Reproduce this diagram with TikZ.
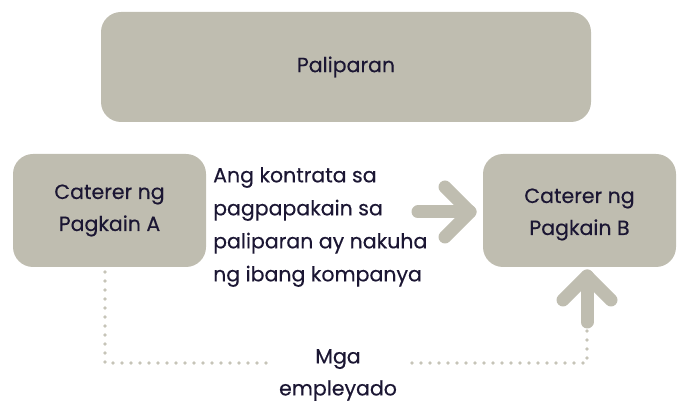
\documentclass[tikz,border=0pt]{standalone}
\usepackage{fontspec}
\setmainfont{Poppins}[FakeBold=0.35]
\definecolor{boxfill}{HTML}{BFBDB0}
\definecolor{txt}{HTML}{1B1633}
\definecolor{dotc}{HTML}{C6C4B8}
\begin{document}
\begin{tikzpicture}[x=1pt,y=-1pt,
  box/.style={fill=boxfill,draw=none,rounded corners=20pt,inner sep=0pt,text=txt,align=center,
    font=\fontsize{20.5}{32}\selectfont},
  lbl/.style={inner sep=0pt,text=txt,font=\fontsize{20.5}{33}\selectfont},
  fat/.style={draw=boxfill,line width=13pt,line cap=round,line join=round},
  dots/.style={draw=dotc,line width=3.6pt,line cap=round,dash pattern=on 0pt off 9pt}]
\useasboundingbox (0,0) rectangle (680,403);
\node[box,minimum width=490pt,minimum height=110pt] (top) at (346,67) {Paliparan};
\node[box,minimum width=193pt,minimum height=113pt] (a) at (109.5,210.5) {Caterer ng\\Pagkain A};
\node[box,minimum width=193pt,minimum height=113pt] (b) at (579.5,210.5) {};
\node[lbl,align=center,font=\fontsize{20.5}{32}\selectfont] (btxt) at ([yshift=-4pt]b.center) {Caterer ng\\Pagkain B};
\node[lbl,anchor=west,align=left] (mid) at (213,227) {Ang kontrata sa\\pagpapakain sa\\paliparan ay nakuha\\ng ibang kompanya};
\node[lbl,align=center,font=\fontsize{20.5}{32}\selectfont] (emp) at (338,375) {Mga\\empleyado};
% right arrow
\coordinate (r1) at (418,212);
\coordinate (r2) at (470,212);
\draw[fat] (r1) -- (r2);
\draw[fat] ([shift={(-25,-25)}]r2) -- (r2) -- ([shift={(-25,25)}]r2);
% up arrow
\coordinate (u1) at (587,322);
\coordinate (u2) at (587,276);
\draw[fat] (u1) -- (u2);
\draw[fat] ([shift={(-24,24)}]u2) -- (u2) -- ([shift={(24,24)}]u2);
% dotted
\coordinate (d1) at (105,272);
\coordinate (d2) at (105,363);
\coordinate (d3) at (272,363);
\coordinate (d4) at (405,363);
\coordinate (d5) at (587,363);
\coordinate (d6) at (587,331);
\draw[dots] (d1) -- (d2) -- (d3);
\draw[dots] (d6) -- (d5) -- (d4);
\end{tikzpicture}
\end{document}
